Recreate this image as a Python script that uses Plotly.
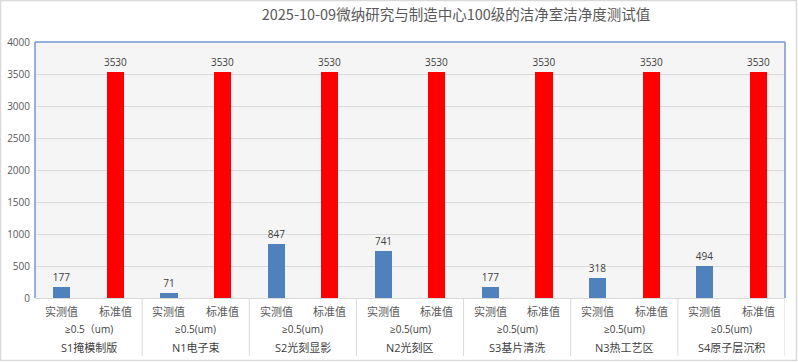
import plotly.graph_objects as go

locations = ["S1掩模制版", "N1电子束", "S2光刻显影", "N2光刻区", "S3基片清洗", "N3热工艺区", "S4原子层沉积"]
size_labels = ["≥0.5（um)", "≥0.5(um)", "≥0.5(um)", "≥0.5(um)", "≥0.5(um)", "≥0.5(um)", "≥0.5(um)"]
kind_labels = ["实测值", "标准值"]
measured = [177, 71, 847, 741, 177, 318, 494]
standard = [3530, 3530, 3530, 3530, 3530, 3530, 3530]
title_text = "2025-10-09微纳研究与制造中心100级的洁净室洁净度测试值"

n = len(locations)
x_meas = [2 * i for i in range(n)]
x_std = [2 * i + 1 for i in range(n)]

W, H = 798, 362
L, R, T, B = 35, 13, 42, 64
ph = H - T - B

def py(pix):
    return (H - B - pix) / ph

fig = go.Figure()
num_font = dict(family="Open Sans, Noto Sans, sans-serif", size=10, color="#404040")
for xs, ys, col in [(x_meas, measured, "#4f81bd"), (x_std, standard, "#ff0000")]:
    fig.add_trace(go.Bar(x=xs, y=ys, width=0.32, marker=dict(color=col, line=dict(width=0)),
                         text=[str(v) for v in ys], textposition="outside", textfont=num_font,
                         constraintext="none", cliponaxis=False, showlegend=False, hoverinfo="skip"))

cjk = "Noto Sans CJK SC"
lat = "Open Sans, DejaVu Sans, " + cjk
annotations = []
for i in range(n):
    for j, k in enumerate(kind_labels):
        annotations.append(dict(x=2 * i + j, y=py(311), xref="x", yref="paper", text=k, showarrow=False,
                                font=dict(family=cjk, size=11, color="#595959"), yanchor="middle"))
    annotations.append(dict(x=2 * i + 0.5, y=py(329), xref="x", yref="paper", text=size_labels[i], showarrow=False,
                            font=dict(family=lat, size=10, color="#404040"), yanchor="middle"))
    annotations.append(dict(x=2 * i + 0.5, y=py(347), xref="x", yref="paper", text=locations[i], showarrow=False,
                            font=dict(family=lat, size=11, color="#404040"), yanchor="middle"))

shapes = []
for i in range(n):
    shapes.append(dict(type="line", xref="x", yref="paper", x0=2 * i + 1.5, x1=2 * i + 1.5, y0=0, y1=py(356),
                       line=dict(color="#d9d9d9", width=1)))
border = "#7399d1"
shapes.append(dict(type="line", xref="paper", yref="paper", x0=0, x1=0, y0=0, y1=1, line=dict(color=border, width=1.5)))
shapes.append(dict(type="line", xref="paper", yref="paper", x0=0, x1=1, y0=1, y1=1, line=dict(color=border, width=1.5)))
shapes.append(dict(type="line", xref="paper", yref="paper", x0=1, x1=1, y0=0, y1=1, line=dict(color=border, width=1.5)))
pw = W - L - R
shapes.append(dict(type="rect", xref="paper", yref="paper", x0=(0.5 - L) / pw, x1=(W - 1.5 - L) / pw,
                   y0=py(H - 1.5), y1=py(0.5), line=dict(color="#d9d9d9", width=1.5), layer="below"))

fig.update_layout(
    width=W, height=H,
    margin=dict(l=L, r=R, t=T, b=B, autoexpand=False),
    paper_bgcolor="white", plot_bgcolor="#f5f5f5",
    title=dict(text=title_text, x=456 / W, xanchor="center", y=1 - 15 / H, yanchor="middle",
               font=dict(family=cjk, size=14.5, color="#595959")),
    xaxis=dict(range=[-0.5, 2 * n - 0.5], showticklabels=False, showgrid=False, zeroline=False,
               showline=True, linecolor="#d9d9d9", linewidth=1, fixedrange=True, automargin=False),
    yaxis=dict(range=[0, 4000], dtick=500, showgrid=True, gridcolor="#d9d9d9", gridwidth=1, zeroline=False,
               tickfont=dict(family="Open Sans, Noto Sans, sans-serif", size=10, color="#595959"),
               ticks="", ticklabelstandoff=4, automargin=False),
    annotations=annotations, shapes=shapes, bargap=0,
)
fig.write_html("out.html", config={"displayModeBar": False},
               post_script="document.body.style.margin='0';document.body.style.overflow='hidden';")
